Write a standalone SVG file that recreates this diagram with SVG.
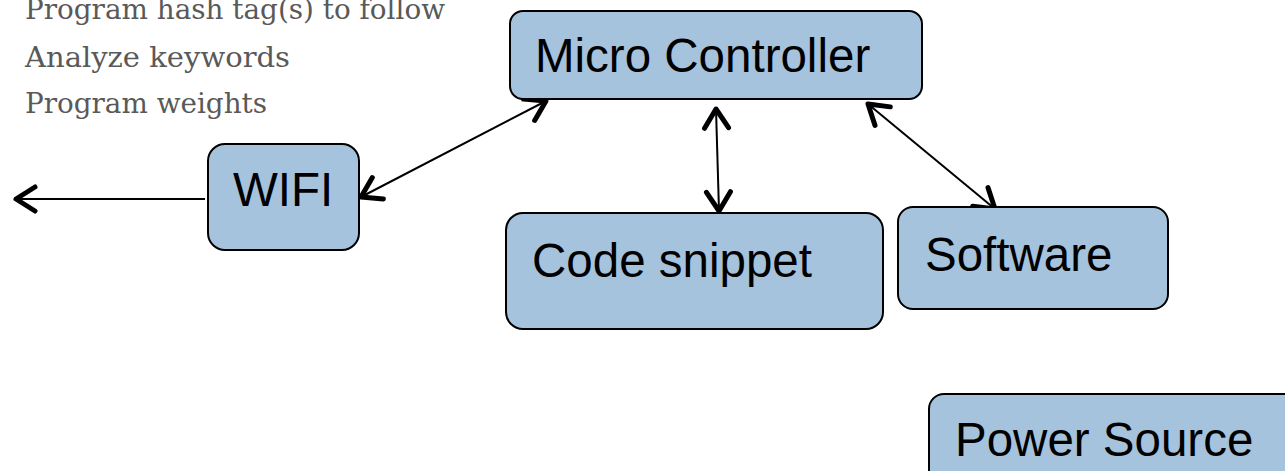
<svg xmlns="http://www.w3.org/2000/svg" width="1285" height="471" viewBox="0 0 1285 471">
<defs>
<style>
.box{fill:#a5c3dc;stroke:#000;stroke-width:2}
.lbl{font-family:"Liberation Sans",Arial,sans-serif;font-size:47.5px;fill:#000}
.note{font-family:"DejaVu Serif","Liberation Serif",serif;font-size:27px;fill:#595959}
.conn{stroke:#000;stroke-width:2;fill:none}
</style>
<marker id="ah" markerUnits="userSpaceOnUse" viewBox="-24 -16 28 32" refX="0" refY="0" markerWidth="28" markerHeight="32" orient="auto-start-reverse">
<path d="M-19,-12 L0,0 L-19,12" fill="none" stroke="#000" stroke-width="5" stroke-linecap="round" stroke-linejoin="round"/>
</marker>
</defs>
<rect width="1285" height="471" fill="#fff"/>
<g id="notes">
<text class="note" x="25" y="19" textLength="420" lengthAdjust="spacingAndGlyphs">Program hash tag(s) to follow</text>
<text class="note" x="25" y="67" textLength="265" lengthAdjust="spacingAndGlyphs">Analyze keywords</text>
<text class="note" x="25" y="113" textLength="242" lengthAdjust="spacingAndGlyphs">Program weights</text>
</g>
<g id="connectors">
<line class="conn" x1="205" y1="199" x2="16" y2="199" marker-end="url(#ah)"/>
<line class="conn" x1="361" y1="197" x2="546" y2="101" marker-start="url(#ah)" marker-end="url(#ah)"/>
<line class="conn" x1="716" y1="109" x2="719" y2="211" marker-start="url(#ah)" marker-end="url(#ah)"/>
<line class="conn" x1="868" y1="104" x2="995" y2="209" marker-start="url(#ah)" marker-end="url(#ah)"/>
</g>
<g id="micro-controller">
<rect class="box" x="510" y="11" width="412" height="88" rx="13"/>
<text class="lbl" x="535" y="72">Micro Controller</text>
</g>
<g id="wifi">
<rect class="box" x="208" y="144" width="151" height="106" rx="17"/>
<text class="lbl" x="233" y="206">WIFI</text>
</g>
<g id="code-snippet">
<rect class="box" x="506" y="213" width="377" height="116" rx="17"/>
<text class="lbl" x="532" y="277">Code snippet</text>
</g>
<g id="software">
<rect class="box" x="898" y="207" width="270" height="102" rx="15"/>
<text class="lbl" x="925" y="271">Software</text>
</g>
<g id="power-source">
<rect class="box" x="929" y="394" width="420" height="110" rx="15"/>
<text class="lbl" x="955" y="456">Power Source</text>
</g>
</svg>
